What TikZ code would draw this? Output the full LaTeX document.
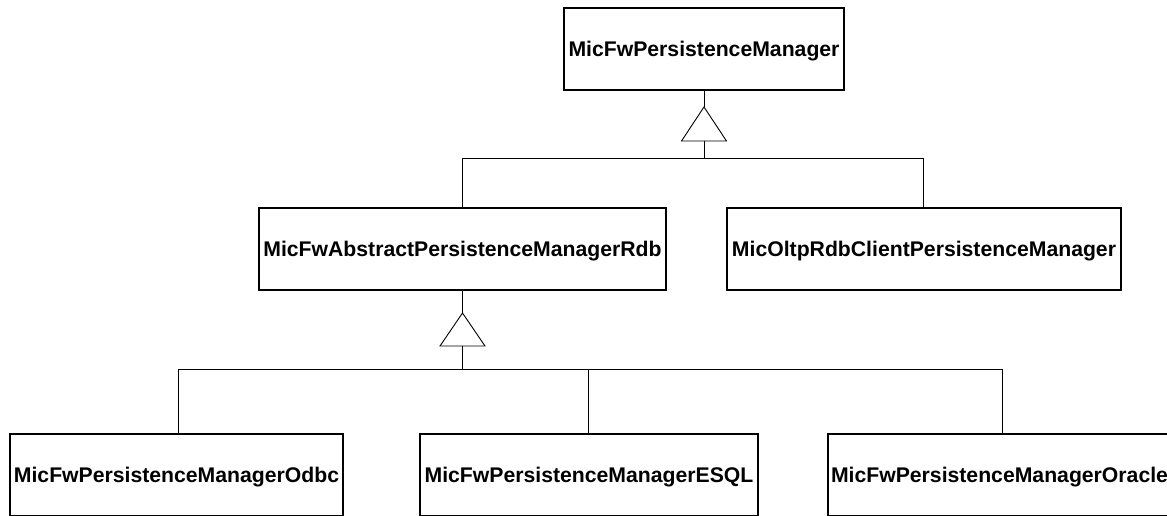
\documentclass[tikz,border=0pt]{standalone}
\usepackage{fontspec}
\setmainfont{Liberation Sans}
\begin{document}
\begin{tikzpicture}[x=1pt,y=-1pt,
  cls/.style={draw=black, line width=1.8pt, fill=white, inner sep=0pt,
    font=\bfseries\fontsize{21.2}{25}\selectfont,
    text height=15pt, text depth=0pt},
  link/.style={draw=black, line width=0.9pt},
  tri/.style={draw=black, line width=0.9pt, line join=miter, fill=white}]
\useasboundingbox (0,0) rectangle (1167,516);
\clip (0,0) rectangle (1167,516);

% class boxes (centre, size)
\node[cls, minimum width=280pt, minimum height=82pt] (pm)   at (704,49)    {MicFwPersistenceManager};
\node[cls, minimum width=407pt, minimum height=82pt] (abs)  at (462.5,249) {MicFwAbstractPersistenceManagerRdb};
\node[cls, minimum width=394pt, minimum height=82pt] (oltp) at (924,249)   {MicOltpRdbClientPersistenceManager};
\node[cls, minimum width=333pt, minimum height=82pt] (odbc) at (176.5,475) {MicFwPersistenceManagerOdbc};
\node[cls, minimum width=338pt, minimum height=82pt] (esql) at (589,475)   {MicFwPersistenceManagerESQL};
\node[cls, minimum width=372pt, minimum height=82pt, text width=366pt, align=left] (ora) at (1014,475) {MicFwPersistenceManagerOracle};

% generalization 1
\coordinate (a1) at (704,107);
\coordinate (l1) at (681.5,141);
\coordinate (r1) at (726.5,141);
\coordinate (b1) at (704,141);
\coordinate (j1) at (704,158);
\coordinate (h1l) at (462,158);
\coordinate (h1r) at (923,158);
\draw[link] (pm.south -| a1) -- (a1);
\draw[tri] (a1) -- (l1) -- (r1) -- cycle;
\draw[link] (b1) -- (j1);
\draw[link] (abs.north -| h1l) -- (h1l) -- (h1r) -- (oltp.north -| h1r);

% generalization 2
\coordinate (a2) at (462.5,313);
\coordinate (l2) at (440,346);
\coordinate (r2) at (485,346);
\coordinate (b2) at (462.5,346);
\coordinate (j2) at (462.5,369);
\coordinate (h2l) at (178,369);
\coordinate (h2m) at (588,369);
\coordinate (h2r) at (1002,369);
\draw[link] (abs.south -| a2) -- (a2);
\draw[tri] (a2) -- (l2) -- (r2) -- cycle;
\draw[link] (b2) -- (j2);
\draw[link] (odbc.north -| h2l) -- (h2l) -- (h2r) -- (ora.north -| h2r);
\draw[link] (h2m) -- (esql.north -| h2m);
\end{tikzpicture}
\end{document}
